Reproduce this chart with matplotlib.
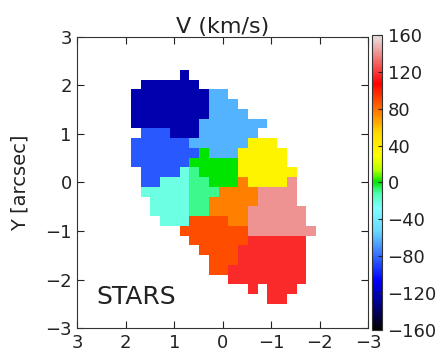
import numpy as np
import matplotlib
matplotlib.use("Agg")
import matplotlib.pyplot as plt
from matplotlib.colors import LinearSegmentedColormap

# Voronoi bin membership of each 0.2" spaxel (rows from north to south,
# columns from east to west); '.' marks spaxels outside the field.
bin_map = [
    ".....A.............",
    ".AAAAAA............",
    "AAAAAAAACC.........",
    "AAAAAAAACCC........",
    "AAAAAAAACCCC.......",
    "AAAAAAACCCCCCC.....",
    ".BBBAAACCCCCC......",
    "BBBBBBCCCCCCGGG....",
    "BBBBBBBDCCCGGGGG...",
    "BBBBBBDDDDDGGGGG...",
    ".BBBBFEDDDDGGGGGG..",
    ".BBFFFEEDDDHGGGGI..",
    ".FFFFFEEEHHHHIIII..",
    "..FFFFEEHHHHHIIII..",
    "..FFFFEEHHHHIIIIII.",
    "...FFFJJJJHHIIIIII.",
    ".....JJJJJJJIIIIIII",
    "......JJJJJJKKKKKK.",
    ".......JJJJKKKKKKK.",
    "........JJJKKKKKKK.",
    "........JJKKKKKKKK.",
    "..........KKKKKKKK.",
    "............K.KKK..",
    "..............KK...",
]

# Mean stellar velocity of each bin (km/s)
bin_names = ["A", "B", "C", "D", "E", "F", "G", "H", "I", "J", "K"]
bin_velocity = [-123, -85, -62, 0, -10, -22, 36, 76, 140, 88, 117]

vmin, vmax = -160, 160
cbar_ticks = [-160, -120, -80, -40, 0, 40, 80, 120, 160]
axis_ticks = [3, 2, 1, 0, -1, -2, -3]

spaxel = 0.2
x_east, y_north = 1.8, 2.2   # centre of the first spaxel

# SAURON-style colour map
xs = np.array([1.0, 43.5, 86.0, 86.0 + 20, 128.5 - 10, 128.5,
               128.5 + 10, 171.0 - 20, 171.0, 213.5, 255.0])
red = [0.01, 0.0, 0.4, 0.5, 0.3, 0.0, 0.7, 1.0, 1.0, 1.0, 0.9]
green = [0.01, 0.0, 0.85, 1.0, 1.0, 0.9, 1.0, 1.0, 0.85, 0.0, 0.9]
blue = [0.01, 1.0, 1.0, 1.0, 0.7, 0.0, 0.0, 0.0, 0.0, 0.0, 0.9]
xn = (xs - xs[0]) / (xs[-1] - xs[0])
cdict = {
    "red": [(a, b, b) for a, b in zip(xn, red)],
    "green": [(a, b, b) for a, b in zip(xn, green)],
    "blue": [(a, b, b) for a, b in zip(xn, blue)],
}
sauron = LinearSegmentedColormap("sauron", cdict, N=256)

lookup = dict(zip(bin_names, bin_velocity))
nrow, ncol = len(bin_map), len(bin_map[0])
vel = np.full((nrow, ncol), np.nan)
for r, row in enumerate(bin_map):
    for c, ch in enumerate(row):
        if ch in lookup:
            vel[r, c] = lookup[ch]
vel = np.ma.masked_invalid(vel)

extent = [x_east + spaxel / 2, x_east - spaxel * (ncol - 1) - spaxel / 2,
          y_north - spaxel * (nrow - 1) - spaxel / 2, y_north + spaxel / 2]

text_color = "#222222"

fig = plt.figure(figsize=(4.37, 3.57), dpi=100)
ax = fig.add_axes([0.1769, 0.0804, 0.6659, 0.8168])
im = ax.imshow(vel, cmap=sauron, vmin=vmin, vmax=vmax, extent=extent,
               origin="upper", interpolation="nearest", aspect="auto")
ax.set_xlim(3, -3)
ax.set_ylim(-3, 3)
ax.set_xticks(axis_ticks)
ax.set_yticks(axis_ticks)
ax.tick_params(direction="in", top=True, right=True, length=5, pad=4,
               labelsize=13, colors=text_color)
for s in ax.spines.values():
    s.set_color("#333333")
ax.set_ylabel("Y [arcsec]", fontsize=14, color=text_color)
ax.yaxis.set_label_coords(-0.165, 0.5)
ax.set_title("V (km/s)", fontsize=16, color=text_color, pad=3)
ax.text(2.6, -2.36, "STARS", fontsize=18, color=text_color,
        ha="left", va="center")

cax = fig.add_axes([0.8524, 0.0756, 0.0217, 0.8264])
cb = fig.colorbar(im, cax=cax, ticks=cbar_ticks)
cb.ax.tick_params(direction="in", length=3, pad=4, labelsize=13,
                  colors=text_color)
cb.outline.set_edgecolor("#333333")

fig.savefig("out.png", dpi=100)
